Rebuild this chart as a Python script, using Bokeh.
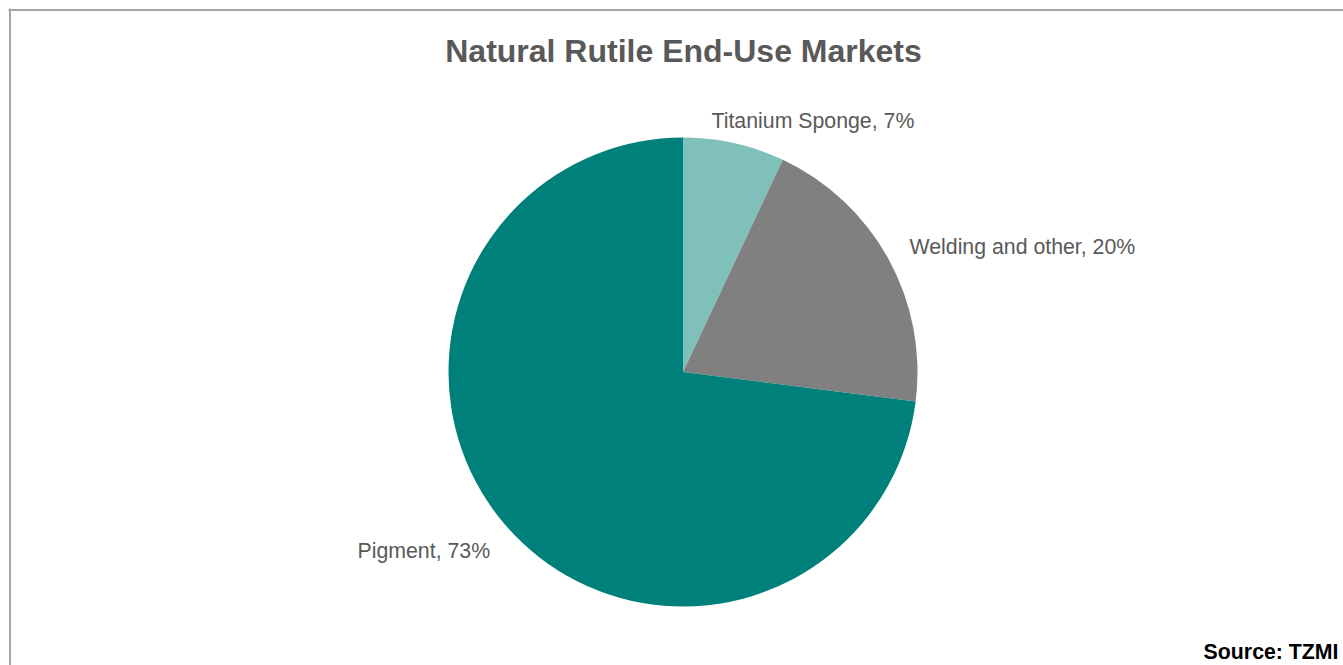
import numpy as np
from bokeh.plotting import figure
from bokeh.models import Range1d, Label, ColumnDataSource
from bokeh.embed import file_html
from bokeh.resources import INLINE

categories = ["Titanium Sponge", "Welding and other", "Pigment"]
shares = [7, 20, 73]
colors = ["#80C0BB", "#808080", "#00807A"]
title_text = "Natural Rutile End-Use Markets"
source_text = "Source: TZMI"

W, H = 1343, 665
p = figure(width=W, height=H, output_backend="svg", toolbar_location=None,
           x_range=Range1d(0, W), y_range=Range1d(0, H),
           min_border=0, outline_line_color=None)
p.axis.visible = False
p.grid.visible = False
p.background_fill_color = "white"
p.border_fill_color = "white"

# convert image y to data y
def Y(img_y):
    return H - img_y

cx, cy, r = 682.5, Y(371.5), 234.5
fr = np.array(shares) / sum(shares)
cum = np.concatenate([[0], np.cumsum(fr)])
start = np.pi / 2 - cum[:-1] * 2 * np.pi
end = np.pi / 2 - cum[1:] * 2 * np.pi
src = ColumnDataSource(dict(cat=categories, start=start, end=end, color=colors))
p.wedge(x=cx, y=cy, radius=r, start_angle="start", end_angle="end",
        direction="clock", fill_color="color", line_color=None, source=src)

# chart-area border (top and left visible; right/bottom beyond the view)
p.segment(x0=[8, 9.5], y0=[Y(9.5), Y(8)], x1=[W, 9.5], y1=[Y(9.5), 0],
          line_color="#A6A6A6", line_width=2)

font = "Liberation Sans"
p.add_layout(Label(x=683, y=Y(50), text=title_text, text_align="center", text_baseline="middle",
                   text_font=font, text_font_style="bold", text_font_size="32px",
                   text_color="#595959"))

label_pos = [(711, 120), (909, 246), (357, 550)]
for (lx, ly), c, s in zip(label_pos, categories, shares):
    p.add_layout(Label(x=lx, y=Y(ly), text=f"{c}, {s}%", text_align="left",
                       text_baseline="middle", text_font=font, text_font_size="21.3px",
                       text_color="#595959"))

p.add_layout(Label(x=1338, y=Y(651), text=source_text, text_align="right", text_baseline="middle",
                   text_font=font, text_font_style="bold", text_font_size="21.3px",
                   text_color="black"))

open("out.html", "w").write(file_html(p, INLINE))
